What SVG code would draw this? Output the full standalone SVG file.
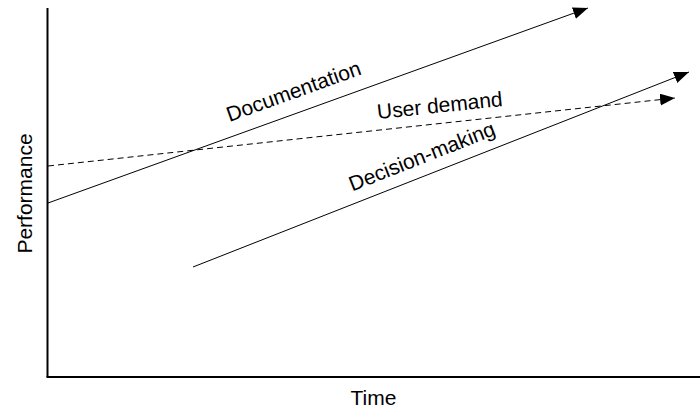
<svg xmlns="http://www.w3.org/2000/svg" width="700" height="412" viewBox="0 0 700 412">
  <style>
    .axis { stroke: #000; stroke-width: 2; fill: none; }
    .trend { stroke: #000; stroke-width: 1; fill: none; }
    .dashed { stroke-dasharray: 6 4; }
    .label { font-family: "Liberation Sans", Arial, sans-serif; font-size: 21px; fill: #000; }
  </style>
  <defs>
    <marker id="arrow" markerUnits="userSpaceOnUse" markerWidth="16" markerHeight="13" refX="15" refY="6" orient="auto">
      <path d="M0,0 L15,6 L0,12 Z" fill="#000"/>
    </marker>
  </defs>
  <rect width="700" height="412" fill="#fff"/>

  <!-- axes -->
  <g id="axes">
    <line class="axis" x1="47.5" y1="8" x2="47.5" y2="377"/>
    <line class="axis" x1="46.5" y1="377" x2="700" y2="377"/>
    <text class="label" transform="translate(31.5,193.5) rotate(-90)" text-anchor="middle">Performance</text>
    <text class="label" x="373.5" y="405" text-anchor="middle">Time</text>
  </g>

  <!-- trend lines -->
  <g id="connectors">
    <line id="documentation-line" class="trend" x1="48" y1="203" x2="588" y2="8" marker-end="url(#arrow)"/>
    <line id="user-demand-line" class="trend dashed" x1="48" y1="166" x2="675" y2="98" marker-end="url(#arrow)"/>
    <line id="decision-making-line" class="trend" x1="193" y1="267" x2="689" y2="72" marker-end="url(#arrow)"/>
  </g>

  <g id="documentation">
    <text class="label" transform="translate(296,98) rotate(-19.8)" text-anchor="middle">Documentation</text>
  </g>
  <g id="user-demand">
    <text class="label" transform="translate(440.5,112.5) rotate(-6)" text-anchor="middle">User demand</text>
  </g>
  <g id="decision-making">
    <text class="label" transform="translate(424.5,163) rotate(-21.5)" text-anchor="middle">Decision-making</text>
  </g>
</svg>
